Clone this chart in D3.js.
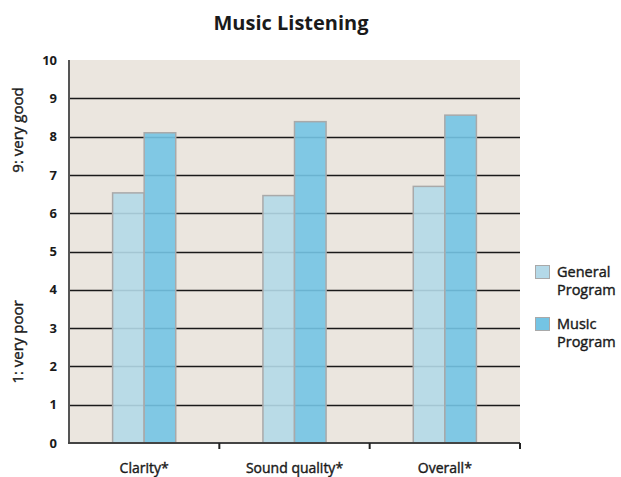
<!DOCTYPE html>
<html>
<head>
<meta charset="utf-8">
<script src="https://cdn.jsdelivr.net/npm/d3@7/dist/d3.min.js"></script>
<style>
  html, body { margin: 0; padding: 0; background: #fff; }
  svg { display: block; font-family: "Open Sans", "Noto Sans", sans-serif; }
  .medium { stroke: #1a1a1a; stroke-width: 0.4px; paint-order: stroke; }
</style>
</head>
<body>
<svg id="chart" width="621" height="477"></svg>
<script>
// Ratings (1 = very poor, 9 = very good) per listening aspect
const categories = ["Clarity*", "Sound quality*", "Overall*"];
const seriesNames = ["General Program", "Music Program"];
const generalProgram = [6.53, 6.46, 6.70];
const musicProgram = [8.10, 8.39, 8.56];
const yTicks = [0, 1, 2, 3, 4, 5, 6, 7, 8, 9, 10];
const seriesColors = ["#b4d9e8", "#74c4e4"];

const svg = d3.select("#chart");
const margin = { left: 69, right: 101, top: 60, bottom: 34 };
const W = 621, H = 477;
const x0 = margin.left, x1 = W - margin.right;
const y0 = H - margin.bottom, y1 = margin.top;
const ink = "#1a1a1a";

const x = d3.scaleBand().domain(categories).range([x0, x1]).paddingInner(0).paddingOuter(0);
const groupW = x.bandwidth() * 0.42;
const xs = d3.scaleBand().domain(seriesNames).range([0, groupW]);
const y = d3.scaleLinear().domain([0, 10]).range([y0, y1]);

// plot background
svg.append("rect")
  .attr("x", x0).attr("y", y1)
  .attr("width", x1 - x0).attr("height", y0 - y1)
  .attr("fill", "#ebe6df");

// horizontal grid lines
svg.append("g").selectAll("line")
  .data(yTicks.filter(t => t > 0 && t < 10))
  .join("line")
  .attr("x1", x0).attr("x2", x1)
  .attr("y1", d => Math.round(y(d)) + 0.5).attr("y2", d => Math.round(y(d)) + 0.5)
  .attr("stroke", ink).attr("stroke-width", 1.3);

// bars
const rows = categories.map((c, i) => ({ cat: c, vals: [generalProgram[i], musicProgram[i]] }));
const groups = svg.append("g").selectAll("g")
  .data(rows).join("g")
  .attr("transform", d => `translate(${x(d.cat) + (x.bandwidth() - groupW) / 2},0)`);
groups.selectAll("rect")
  .data(d => d.vals.map((v, j) => ({ name: seriesNames[j], v, j })))
  .join("rect")
  .attr("x", d => xs(d.name))
  .attr("width", xs.bandwidth())
  .attr("y", d => y(d.v))
  .attr("height", d => y(0) - y(d.v))
  .attr("fill", d => seriesColors[d.j])
  .attr("fill-opacity", 0.9)
  .attr("stroke", "#a9a9a9")
  .attr("stroke-width", 1.5);

// y axis
const yAxis = svg.append("g")
  .attr("transform", `translate(${x0},0)`)
  .call(d3.axisLeft(y).tickValues(yTicks).tickSize(0).tickPadding(12));
yAxis.select(".domain").remove();
yAxis.selectAll("text")
  .attr("font-size", 13).attr("font-weight", "bold").attr("fill", ink)
  .attr("font-family", "'Open Sans', sans-serif");
svg.append("line")
  .attr("x1", x0).attr("x2", x0).attr("y1", y1).attr("y2", y0 + 1)
  .attr("stroke", "#555").attr("stroke-width", 2);

// x axis
const xAxis = svg.append("g")
  .attr("transform", `translate(0,${y0})`)
  .call(d3.axisBottom(x).tickSize(0).tickPadding(20));
xAxis.select(".domain").remove();
xAxis.selectAll("text")
  .attr("class", "medium")
  .attr("font-size", 14).attr("fill", ink)
  .attr("font-family", "'Open Sans', sans-serif");
svg.append("line")
  .attr("x1", x0 - 1).attr("x2", x1).attr("y1", y0).attr("y2", y0)
  .attr("stroke", "#444").attr("stroke-width", 2);
svg.append("g").selectAll("line")
  .data(categories.slice(1).map(c => x(c)).concat([x1]))
  .join("line")
  .attr("x1", d => d).attr("x2", d => d)
  .attr("y1", y0).attr("y2", y0 + 6)
  .attr("stroke", "#222").attr("stroke-width", 2);

// title
svg.append("text")
  .attr("x", 291).attr("y", 30)
  .attr("text-anchor", "middle")
  .attr("font-size", 20).attr("font-weight", "bold").attr("fill", ink)
  .text("Music Listening");

// y axis scale descriptors
[["9: very good", 130], ["1: very poor", 342]].forEach(([t, cy]) => {
  svg.append("text")
    .attr("class", "medium")
    .attr("transform", `translate(23,${cy}) rotate(-90)`)
    .attr("text-anchor", "middle")
    .attr("font-size", 15).attr("fill", ink)
    .text(t);
});

// legend
const legend = svg.append("g");
const legendRows = [
  { lines: ["General", "Program"], top: 265 },
  { lines: ["Music", "Program"], top: 317 }
];
legendRows.forEach((r, i) => {
  legend.append("rect")
    .attr("x", 535.5).attr("y", r.top + 0.5)
    .attr("width", 14).attr("height", 13)
    .attr("fill", seriesColors[i])
    .attr("stroke", "#a9a9a9").attr("stroke-width", 1);
  r.lines.forEach((ln, k) => {
    legend.append("text")
      .attr("class", "medium")
      .attr("x", 557).attr("y", r.top + 12 + k * 17.5)
      .attr("font-size", 14.5).attr("fill", ink)
      .text(ln);
  });
});
</script>
</body>
</html>
